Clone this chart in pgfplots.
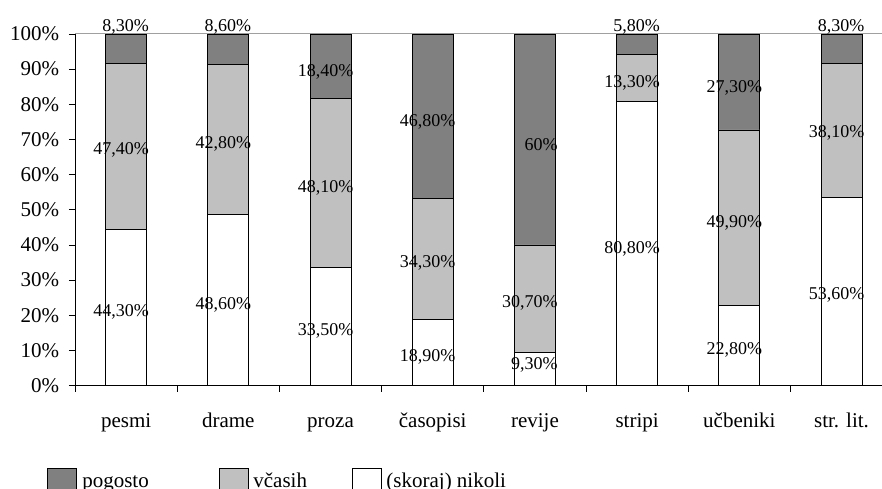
\documentclass[border=0pt]{standalone}
\usepackage{fontspec}
\setmainfont{Liberation Serif}
\usepackage{pgfplots}
\pgfplotsset{compat=1.18}

\definecolor{dark}{HTML}{808080}
\definecolor{light}{HTML}{C0C0C0}
\definecolor{gridgray}{HTML}{A0A0A0}

\newcommand{\fbig}{\fontsize{21}{25}\selectfont}
\newcommand{\fsmall}{\fontsize{18}{22}\selectfont}

\begin{document}
\begin{tikzpicture}
\begin{axis}[
    name=ax,
    scale only axis,
    width=807pt, height=351.5pt,
    xmin=-0.5, xmax=7.396, ymin=0, ymax=100,
    ybar stacked, bar width=0.4,
    axis lines=left,
    axis line style={-, black, line width=0.8pt},
    tick align=outside,
    major tick length=6pt, minor tick length=6pt,
    xtick={0,...,7},
    xticklabels={pesmi,drame,proza,časopisi,revije,stripi,učbeniki,str. lit.},
    major x tick style={draw=none},
    minor xtick={-0.5,0.5,...,7.5},
    minor x tick style={black, line width=0.8pt},
    ytick={0,10,...,100},
    ytick style={black, line width=0.8pt},
    yticklabel={\pgfmathparse{int(\tick)}\pgfmathresult\%},
    tick label style={font=\fbig},
    yticklabel style={inner sep=0pt, xshift=-9.7pt},
    xticklabel style={inner sep=0pt, text height=15pt, text depth=5pt, yshift=-21pt},
    extra y ticks={100},
    extra y tick labels={},
    extra y tick style={grid=major, major grid style={draw=gridgray, line width=1pt}, tick style={draw=none}},
    legend style={at={(0,0)}, anchor=north west, xshift=-27.7pt, yshift=-82.5pt,
        draw=none, fill=none, inner sep=0pt, legend columns=-1, font=\fbig,
        nodes={inner sep=0pt, text height=14pt, text depth=5pt}},
    legend image code/.code={\draw[#1, line width=0.8pt] (0pt,-8.5pt) rectangle (29pt,14.5pt); \path (34pt,0pt);},
    reverse legend,
]
% (skoraj) nikoli
\addplot[fill=white, draw=black, line width=0.8pt] coordinates {
    (0,44.3) (1,48.6) (2,33.5) (3,18.9) (4,9.3) (5,80.8) (6,22.8) (7,53.6)};
\addlegendentry{(skoraj) nikoli}
% včasih
\addplot[fill=light, draw=black, line width=0.8pt] coordinates {
    (0,47.4) (1,42.8) (2,48.1) (3,34.3) (4,30.7) (5,13.3) (6,49.9) (7,38.1)};
\addlegendentry{včasih\rule{44.6pt}{0pt}}
% pogosto
\addplot[fill=dark, draw=black, line width=0.8pt] coordinates {
    (0,8.3) (1,8.6) (2,18.4) (3,46.8) (4,60) (5,5.8) (6,27.3) (7,8.3)};
\addlegendentry{pogosto\rule{69.8pt}{0pt}}
\end{axis}

\begin{axis}[
    at={(ax.south west)}, anchor=south west,
    scale only axis,
    width=807pt, height=351.5pt,
    xmin=-0.5, xmax=7.396, ymin=0, ymax=100,
    hide axis, clip=false,
]
\addplot[draw=none, nodes near coords={\pgfplotspointmeta\%},
    point meta=explicit symbolic,
    nodes near coords style={anchor=east, font=\fsmall, inner sep=0pt}]
coordinates {
    (0.2245,102.1) [8,30] (0.2245,67.0) [47,40] (0.2245,20.8) [44,30]
    (1.2245,102.1) [8,60] (1.2245,68.6) [42,80] (1.2245,22.9) [48,60]
    (2.2245,89.3) [18,40] (2.2245,56.1) [48,10] (2.2245,15.5) [33,50]
    (3.2245,75.0) [46,80] (3.2245,35.0) [34,30] (3.2245,8.2) [18,90]
    (4.2245,68.6) [60] (4.2245,23.4) [30,70] (4.2245,5.8) [9,30]
    (5.2245,102.1) [5,80] (5.2245,86.0) [13,30] (5.2245,39.0) [80,80]
    (6.2245,84.7) [27,30] (6.2245,46.4) [49,90] (6.2245,10.1) [22,80]
    (7.2245,102.1) [8,30] (7.2245,71.8) [38,10] (7.2245,25.7) [53,60]
};
\end{axis}

\pgfresetboundingbox
\path[use as bounding box] (ax.south west) ++(-75pt,-102.5pt) rectangle ++(882pt,488pt);
\end{tikzpicture}
\end{document}
